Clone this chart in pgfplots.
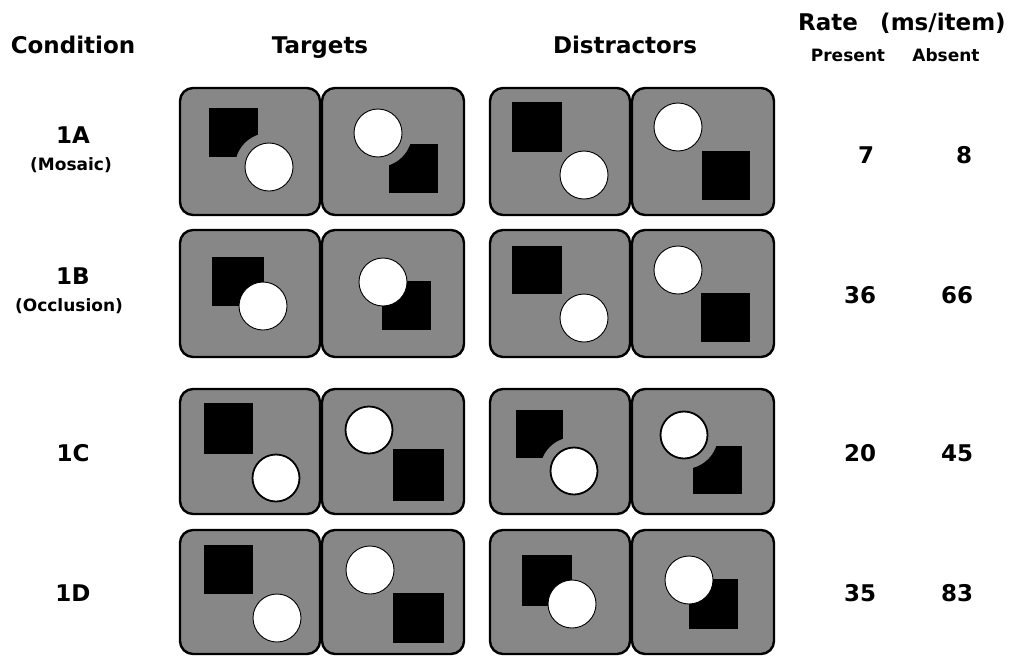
\documentclass[border=0pt]{standalone}
\usepackage{fontspec}
\setmainfont{DejaVu Sans}
\usepackage{pgfplots}
\pgfplotsset{compat=1.18}
\definecolor{panel}{RGB}{135,135,135}
% panel: x1 y1 x2 y2
\newcommand{\panel}[4]{\draw[line width=2.4pt,fill=panel,rounded corners=13pt] (axis cs:#1,#2) rectangle (axis cs:#3,#4);}
\newcommand{\sq}[4]{\fill[black] (axis cs:#1,#2) rectangle (axis cs:#3,#4);}
\newcommand{\bite}[2]{\fill[panel] (axis cs:#1,#2) circle[radius=34pt];}
\newcommand{\disc}[2]{\draw[fill=white,line width=0.9pt] (axis cs:#1,#2) circle[radius=24pt];}
\newcommand{\discb}[2]{\draw[fill=white,line width=1.8pt] (axis cs:#1,#2) circle[radius=23.5pt];}
\tikzset{big/.style={font=\bfseries\fontsize{23}{25}\selectfont,anchor=base,inner sep=0pt},
  small/.style={font=\bfseries\fontsize{17}{19}\selectfont,anchor=base,inner sep=0pt}}
\begin{document}
\begin{tikzpicture}
\begin{axis}[width=1012pt,height=656pt,scale only axis,xmin=0,xmax=1012,ymin=0,ymax=656,
  y dir=reverse,hide axis,clip=false]
\addplot[draw=none] coordinates {(0,0) (1012,656)};
% headers
\node[big] at (axis cs:73,53) {Condition};
\node[big] at (axis cs:320,53) {Targets};
\node[big] at (axis cs:625,53) {Distractors};
\node[big] at (axis cs:828,30) {Rate};
\node[big] at (axis cs:943,30) {(ms/item)};
\node[small] at (axis cs:848,61) {Present};
\node[small] at (axis cs:946,61) {Absent};
% condition labels
\node[big] at (axis cs:73,143) {1A};
\node[small] at (axis cs:71,170) {(Mosaic)};
\node[big] at (axis cs:73,284) {1B};
\node[small] at (axis cs:69,311) {(Occlusion)};
\node[big] at (axis cs:73,461) {1C};
\node[big] at (axis cs:73,601) {1D};
% rates (ms/item): present, absent
\node[big] at (axis cs:866,163) {7};
\node[big] at (axis cs:964,163) {8};
\node[big] at (axis cs:860,303) {36};
\node[big] at (axis cs:957,303) {66};
\node[big] at (axis cs:860,461) {20};
\node[big] at (axis cs:957,461) {45};
\node[big] at (axis cs:860,601) {35};
\node[big] at (axis cs:957,601) {83};
% ---------- Row 1A (mosaic)
\panel{180}{88}{320}{215}\panel{322}{88}{464}{215}
\panel{490}{88}{630}{215}\panel{632}{88}{774}{215}
\sq{209}{108}{258}{157}\bite{269}{167}\disc{269}{167}
\sq{389}{144}{438}{193}\bite{378}{133}\disc{378}{133}
\sq{512}{102}{562}{152}\disc{584}{175}
\sq{702}{151}{750}{200}\disc{678}{127}
% ---------- Row 1B (occlusion)
\panel{180}{230}{320}{357}\panel{322}{230}{464}{357}
\panel{490}{230}{630}{357}\panel{632}{230}{774}{357}
\sq{212}{257}{264}{306}\disc{263}{306}
\sq{382}{281}{431}{330}\disc{383}{282}
\sq{512}{246}{562}{294}\disc{584}{318}
\sq{701}{293}{750}{342}\disc{678}{270}
% ---------- Row 1C
\panel{180}{389}{320}{514}\panel{322}{389}{464}{514}
\panel{490}{389}{630}{514}\panel{632}{389}{774}{514}
\sq{204}{403}{253}{454}\discb{276}{478}
\sq{393}{449}{444}{501}\discb{369}{430}
\sq{516}{410}{563}{458}\bite{574}{471}\discb{574}{471}
\sq{693}{446}{742}{494}\bite{684}{435}\discb{684}{435}
% ---------- Row 1D
\panel{180}{530}{320}{654}\panel{322}{530}{464}{654}
\panel{490}{530}{630}{654}\panel{632}{530}{774}{654}
\sq{204}{545}{253}{594}\disc{277}{618}
\sq{393}{593}{444}{643}\disc{370}{570}
\sq{522}{555}{572}{606}\disc{572}{604}
\sq{689}{579}{738}{629}\disc{689}{580}
\end{axis}
\end{tikzpicture}
\end{document}
